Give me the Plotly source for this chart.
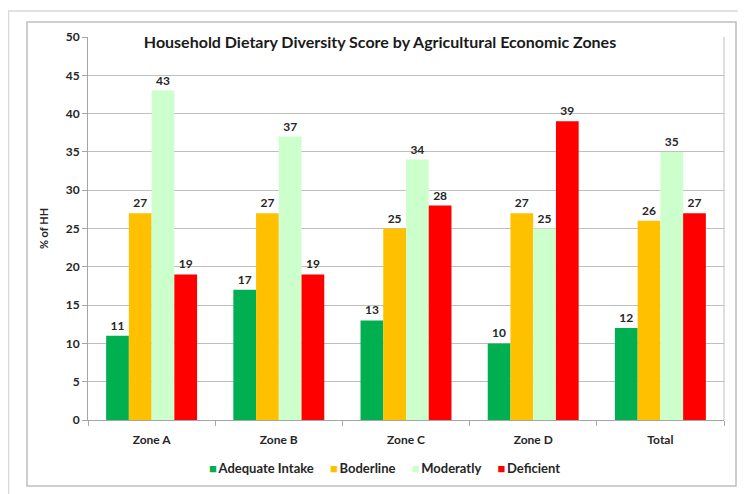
import plotly.graph_objects as go

categories = ["Zone A", "Zone B", "Zone C", "Zone D", "Total"]
adequate = [11, 17, 13, 10, 12]
boderline = [27, 27, 25, 27, 26]
moderately = [43, 37, 34, 25, 35]
deficient = [19, 19, 28, 39, 27]
series_names = ["Adequate Intake", "Boderline", "Moderatly", "Deficient"]
colors = ["#00B050", "#FFC000", "#CCFFCC", "#FF0000"]
y_ticks = list(range(0, 55, 5))

FONT = "Lato"
OFF = 8  # page body margin offset

fig = go.Figure()
for name, vals, col in zip(series_names, [adequate, boderline, moderately, deficient], colors):
    fig.add_trace(go.Bar(
        x=categories, y=vals, name=name, marker=dict(color=col, line=dict(width=0)),
        text=[f"<b>{v}</b>" for v in vals], textposition="outside", cliponaxis=False,
        textfont=dict(family=FONT, size=12, color="#262626"), showlegend=False,
    ))

W, H = 746 - OFF, 494 - OFF
L, T = 88 - OFF, 37 - OFF
R = W - (724 - OFF)
B = H - (420 - OFF)
pw, ph = W - L - R, H - T - B

def px(x):
    return (x - OFF - L) / pw

def py(y):
    return (H - B - (y - OFF)) / ph

shapes = [
    dict(type="rect", xref="paper", yref="paper", x0=px(8.5), x1=px(780), y0=py(520), y1=py(11),
         line=dict(color="#D9D9D9", width=1.5), layer="below"),
    dict(type="rect", xref="paper", yref="paper", x0=px(27), x1=px(736), y0=py(486), y1=py(22),
         line=dict(color="#BFBFBF", width=1.5), layer="below"),
    dict(type="line", xref="paper", yref="paper", x0=1, x1=1, y0=0, y1=1,
         line=dict(color="#BFBFBF", width=1)),
]

# legend drawn as one annotation row (compact, Excel-like)
legend_parts = [f"<span style='color:{c}'>■</span>\u2009<b>{n}</b>" for n, c in zip(series_names, colors)]
legend_text = "\u2003\u2002".join(legend_parts)
annotations = [dict(text=legend_text, xref="paper", yref="paper", x=px(384), y=py(468),
                    xanchor="center", yanchor="middle", showarrow=False,
                    font=dict(family=FONT, size=13, color="#262626"))]

fig.update_layout(
    width=W, height=H,
    margin=dict(l=L, r=R, t=T, b=B, autoexpand=False),
    paper_bgcolor="white", plot_bgcolor="white",
    barmode="group", bargap=0.285, bargroupgap=0,
    font=dict(family=FONT, size=11, color="#262626"),
    title=dict(text="<b>Household Dietary Diversity Score by Agricultural Economic Zones</b>",
               x=(380 - OFF) / W, xanchor="center", y=1 - (42 - OFF) / H, yanchor="middle",
               font=dict(family=FONT, size=16, color="#1a1a1a")),
    shapes=shapes,
    annotations=annotations,
    showlegend=False,
)
fig.update_yaxes(range=[0, 50], tickvals=y_ticks, ticktext=[f"<b>{v}</b>" for v in y_ticks],
                 showgrid=True, gridcolor="#BFBFBF", gridwidth=1,
                 showline=True, linecolor="#A6A6A6", linewidth=1,
                 ticks="outside", ticklen=5, tickcolor="#A6A6A6",
                 tickfont=dict(family=FONT, size=12, color="#262626"),
                 title=dict(text="<b>% of HH</b>", standoff=14, font=dict(family=FONT, size=11, color="#262626")),
                 zeroline=False)
fig.update_xaxes(showline=True, linecolor="#A6A6A6", linewidth=1,
                 ticks="outside", ticklen=5, tickcolor="#A6A6A6", tickson="boundaries",
                 ticklabelstandoff=9,
                 tickvals=categories, ticktext=[f"<b>{c}</b>" for c in categories],
                 tickfont=dict(family=FONT, size=12, color="#262626"))

fig.write_html("out.html")
